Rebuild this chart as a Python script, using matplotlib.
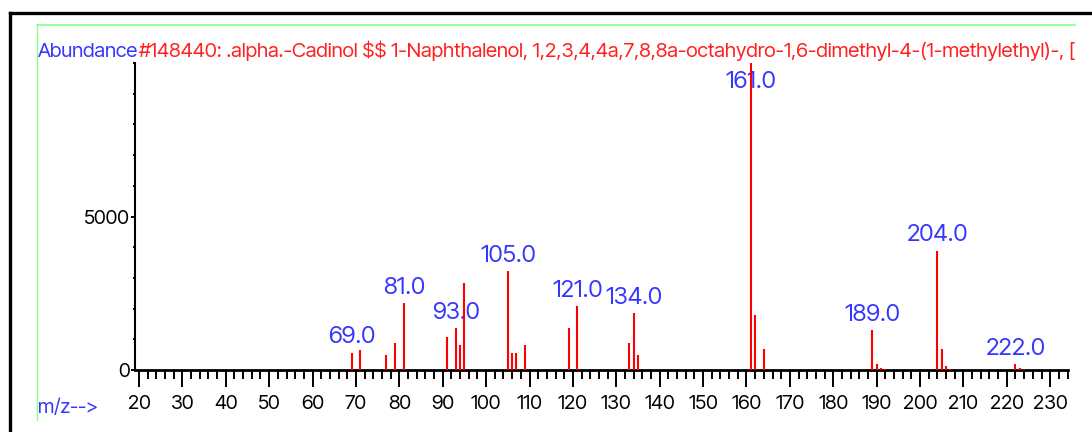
import os
import matplotlib
matplotlib.use("Agg")
import matplotlib.pyplot as plt
from matplotlib import font_manager
from matplotlib.font_manager import FontProperties
from matplotlib.textpath import TextPath
from matplotlib.lines import Line2D
from matplotlib.ticker import MultipleLocator, FixedLocator

# spectrum
mz = [69, 71, 77, 79, 81, 91, 93, 94, 95, 105, 106, 107, 109, 119, 121,
      133, 134, 135, 161, 162, 164, 189, 190, 191, 192, 204, 205, 206, 207,
      222, 223, 224]
abund = [570, 640, 490, 890, 2180, 1060, 1370, 800, 2820, 3210, 570, 570, 800, 1370, 2090,
         890, 1850, 480, 10000, 1800, 680, 1310, 200, 50, 40, 3890, 680, 130, 40,
         200, 50, 40]
labelled = [69, 81, 93, 105, 121, 134, 161, 189, 204, 222]
title_blue = "Abundance"
title_red = ("#148440: .alpha.-Cadinol $$ 1-Naphthalenol, 1,2,3,4,4a,7,8,8a-octahydro-"
             "1,6-dimethyl-4-(1-methylethyl)-, [1S-(1.alpha.,4.alpha.)]-")
xticks = list(range(20, 231, 10))
yticks = [0, 5000]

PLAIN_SANS = ("Liberation Sans", "DejaVu Sans", "Noto Sans", "Roboto", "Open Sans", "Lato", "Inter")


def ink_width(text, prop):
    return TextPath((0, 0), text, size=1, prop=prop).get_extents().width


def pick_narrow_font():
    # the original is a squeezed Arial; prefer the narrowest plain sans on hand
    best, best_ratio = ("Liberation Sans", "normal"), None
    seen = set()
    for f in font_manager.fontManager.ttflist:
        key = (f.name, f.stretch)
        if key in seen or f.style != "normal":
            continue
        if f.weight not in (400, "normal", "regular", "book"):
            continue
        if not f.name.startswith(PLAIN_SANS) or "CJK" in f.name or "Mono" in f.name:
            continue
        if f.fname.lower().endswith(".ttc"):
            continue
        try:
            if os.path.getsize(f.fname) > 3_000_000:
                continue
        except OSError:
            continue
        seen.add(key)
        if len(seen) > 30:
            break
        try:
            p = FontProperties(fname=f.fname)
            w = ink_width("Abundance", p)
            h = TextPath((0, 0), "A", size=1, prop=p).get_extents().height
        except Exception:
            continue
        if h > 0 and (best_ratio is None or w / h < best_ratio):
            best, best_ratio = key, w / h
    return best


choice = pick_narrow_font()
plt.rcParams["font.family"] = [choice[0], "DejaVu Sans"]
plt.rcParams["font.stretch"] = choice[1]
PROP = FontProperties(family=choice[0], stretch=choice[1])


def size_for(text, px):
    # font size (pt) that makes `text` about `px` pixels wide at 100 dpi
    return px / (ink_width(text, PROP) * 100 / 72)


fs_title = size_for("Abundance", 100)
fs_peak = size_for("161.0", 49)
fs_tick = size_for("5000", 44)
fs_mz = size_for("m/z-->", 58)

BLUE = "#3636ff"
RED = "#ff2020"

W, H = 1092, 432
fig = plt.figure(figsize=(W / 100, H / 100), dpi=100)

# outer frame (black top/left) and green inner frame
fig.add_artist(Line2D([10 / W, 1], [1 - 13 / H, 1 - 13 / H], color="black", lw=2.4))
fig.add_artist(Line2D([10 / W, 10 / W], [1 - 13 / H, 0], color="black", lw=2.4))
fig.add_artist(Line2D([37 / W, 1075 / W], [1 - 25 / H, 1 - 25 / H], color="#88ff88", lw=1.2))
fig.add_artist(Line2D([37 / W, 37 / W], [1 - 25 / H, 1 - 420 / H], color="#88ff88", lw=1.0))

# title strip, clipped at the green frame
tax = fig.add_axes([37 / W, 0, 1038 / W, 1])
tax.axis("off")
t1 = tax.text(1 / 1038, 1 - 57 / H, title_blue, color=BLUE, fontsize=fs_title,
              va="baseline", ha="left", clip_on=True)
t1.set_clip_box(tax.bbox)
t2 = tax.annotate(title_red, xy=(1, 0), xycoords=t1, color=RED, fontsize=fs_title,
                  va="bottom", ha="left", clip_on=True, parse_math=False)
t2.set_clip_box(tax.bbox)

fig.text(38 / W, 1 - 408 / H, "m/z-->", color=BLUE, fontsize=fs_mz, va="center", ha="left")

ax = fig.add_axes([135 / W, 1 - 370 / H, (1068 - 135) / W, (370 - 63) / H])
ax.vlines(mz, 0, abund, colors="red", lw=1.5, zorder=3)
for m, v in zip(mz, abund):
    if m in labelled:
        ax.annotate(f"{m:.1f}", xy=(m, min(v, 8900)), xytext=(0, 3), textcoords="offset points",
                    ha="center", va="bottom", color=BLUE, fontsize=fs_peak, zorder=2,
                    annotation_clip=False)

ax.set_xlim(19.08, 234.1)
ax.set_ylim(0, 10000)
for s in ["top", "right"]:
    ax.spines[s].set_visible(False)
ax.spines["left"].set_linewidth(1.5)
ax.spines["bottom"].set_linewidth(2.0)

ax.xaxis.set_major_locator(FixedLocator(xticks))
ax.xaxis.set_minor_locator(MultipleLocator(2))
ax.yaxis.set_major_locator(FixedLocator(yticks))
ax.yaxis.set_minor_locator(MultipleLocator(1000))
ax.tick_params(axis="x", which="major", direction="out", length=12, width=1.4, pad=6,
               labelsize=fs_tick)
ax.tick_params(axis="x", which="minor", direction="out", length=6.5, width=1.4)
ax.tick_params(axis="y", which="major", direction="out", length=3, width=1.4, pad=1,
               labelsize=fs_tick)
ax.tick_params(axis="y", which="minor", direction="out", length=1.5, width=1.4)

fig.savefig("out.png", dpi=100)
